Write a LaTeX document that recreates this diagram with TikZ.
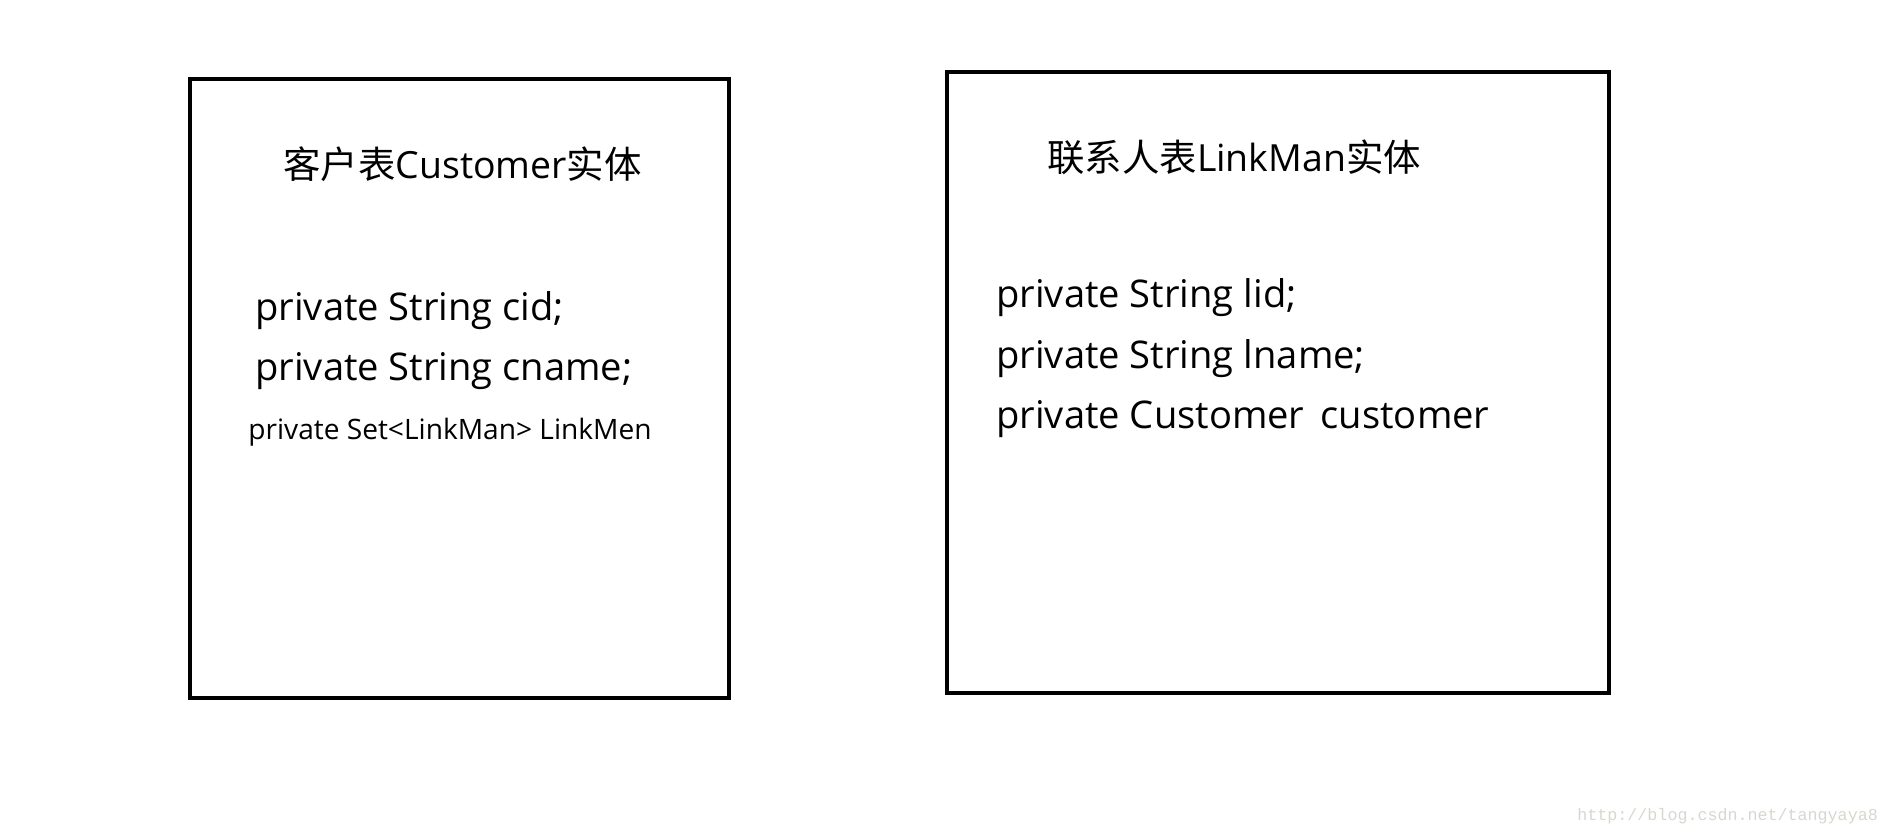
\documentclass[tikz,border=0pt]{standalone}
\usepackage{fontspec}
\setmainfont{Open Sans}
\newfontfamily\cjk{Noto Sans CJK SC}
\newfontfamily\markfont{Liberation Mono}
\usepackage{tikz}
\usepackage{xcolor}
\definecolor{markgrey}{HTML}{D9D6CF}

\begin{document}
\begin{tikzpicture}[x=0.02cm,y=-0.02cm,
  entity/.style={draw=black,line width=2.4pt},
  title/.style={anchor=base west,inner sep=0pt,font=\fontsize{21.3}{25}\selectfont},
  field/.style={anchor=base west,inner sep=0pt,font=\fontsize{21.7}{25}\selectfont},
  smallfield/.style={anchor=base west,inner sep=0pt,font=\fontsize{16}{19}\selectfont}]
\useasboundingbox (0,0) rectangle (1887,832);
% Two entity boxes, one per table.
\draw[entity] (190,79) rectangle (729,698);
\draw[entity] (947,72) rectangle (1609,693);
% Customer side
\node[title] (custtitle) at (283,178) {{\cjk 客户表}Customer{\cjk 实体}};
\node[field] (cid) at (255,320) {private String cid;};
\node[field] (cname) at (255,380) {private String cname;};
\node[smallfield] (linkmen) at (248,439) {private Set<LinkMan> LinkMen};
% LinkMan side
\node[title] (linktitle) at (1047,171) {{\cjk 联系人表}LinkMan{\cjk 实体}};
\node[field] (lid) at (996,307) {private String lid;};
\node[field] (lname) at (996,368) {private String lname;};
\node[field] (cust) at (996,428) {private Customer\, customer};
% watermark
\node[anchor=base west,inner sep=0pt,text=markgrey,font=\markfont\fontsize{9.5}{12}\selectfont] (mark) at (1577,820) {http://blog.csdn.net/tangyaya8};
\end{tikzpicture}
\end{document}
